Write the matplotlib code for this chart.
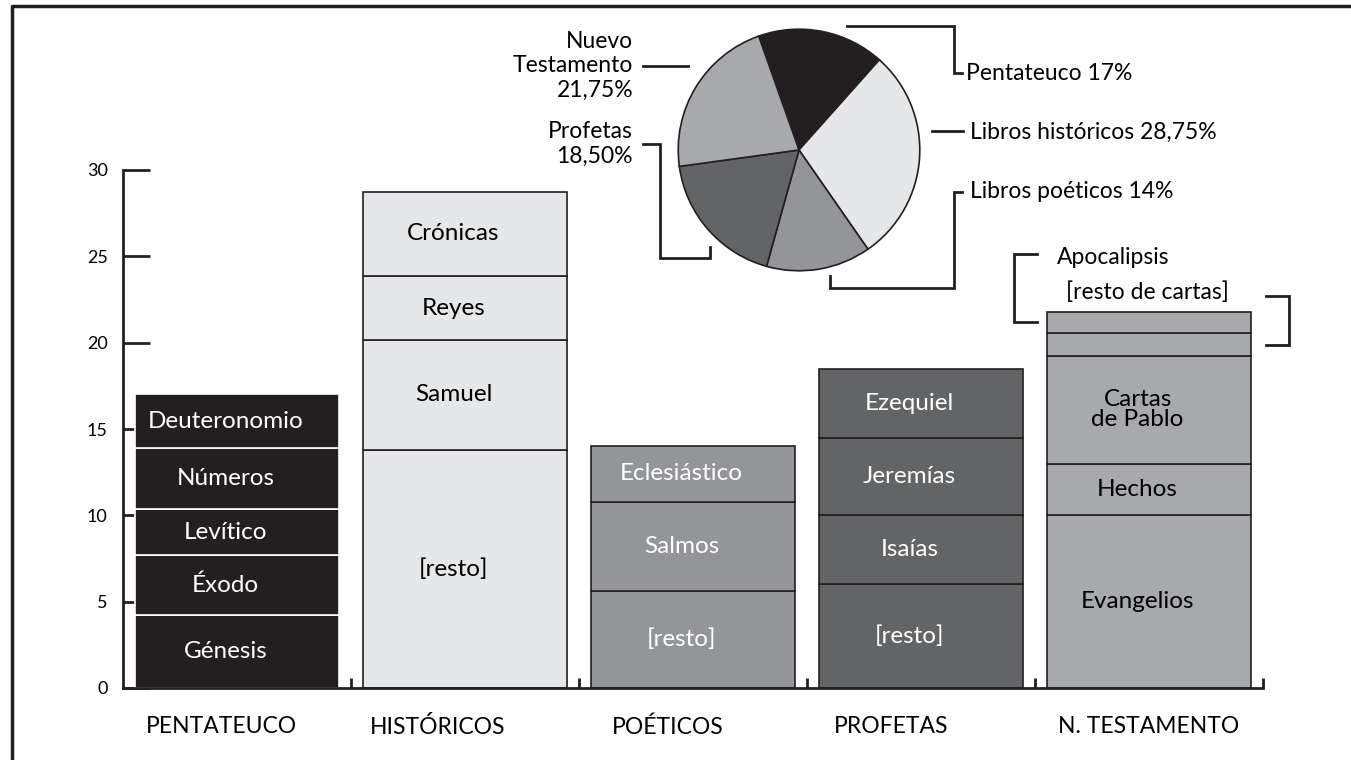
import matplotlib
matplotlib.use('Agg')
import matplotlib.pyplot as plt

plt.rcParams['font.family'] = ['Lato', 'DejaVu Sans']

# categorias (barras) y colores
categorias = ['PENTATEUCO', 'HISTÓRICOS', 'POÉTICOS', 'PROFETAS', 'N. TESTAMENTO']
colores = ['#231f20', '#e6e7e8', '#939598', '#636466', '#a7a9ac']
texto_color = ['white', 'black', 'white', 'white', 'black']

# libros de cada barra, de abajo hacia arriba (porcentaje del total)
pent_libros = ['Génesis', 'Éxodo', 'Levítico', 'Números', 'Deuteronomio']
pent_vals = [4.2, 3.5, 2.65, 3.55, 3.1]
hist_libros = ['[resto]', 'Samuel', 'Reyes', 'Crónicas']
hist_vals = [13.8, 6.35, 3.7, 4.9]
poet_libros = ['[resto]', 'Salmos', 'Eclesiástico']
poet_vals = [5.6, 5.2, 3.2]
prof_libros = ['[resto]', 'Isaías', 'Jeremías', 'Ezequiel']
prof_vals = [6.0, 4.0, 4.5, 4.0]
nt_libros = ['Evangelios', 'Hechos', 'Cartas\nde Pablo', '', '']
nt_vals = [10.0, 3.0, 6.25, 1.3, 1.2]

# pastel
pie_vals = [17, 28.75, 14, 18.5, 21.75]

libros = [pent_libros, hist_libros, poet_libros, prof_libros, nt_libros]
valores = [pent_vals, hist_vals, poet_vals, prof_vals, nt_vals]

W, H = 1351, 760
fig = plt.figure(figsize=(W / 100, H / 100), dpi=100)

ax = fig.add_axes([123 / W, 72 / H, 1140 / W, 518 / H])
ax.set_axisbelow(True)
for i, (nombres, vals) in enumerate(zip(libros, valores)):
    base = 0
    borde = 'white' if i == 0 else '#231f20'
    for nombre, v in zip(nombres, vals):
        ax.bar(i, v, bottom=base, width=0.895, color=colores[i],
               edgecolor=borde, linewidth=1.2, zorder=2)
        if nombre:
            ax.text(i - 0.05, base + v / 2, nombre, ha='center', va='center',
                    fontsize=17.5, color=texto_color[i], linespacing=0.95, zorder=3)
        base += v

ax.set_xlim(-0.5, 4.5)
ax.set_ylim(0, 30)
ax.spines['top'].set_visible(False)
ax.spines['right'].set_visible(False)
ax.spines['left'].set_linewidth(2)
ax.spines['bottom'].set_linewidth(2)
ax.spines['left'].set_color('#231f20')
ax.spines['bottom'].set_color('#231f20')
ax.set_yticks([0, 5, 10, 15, 20, 25, 30])
ax.tick_params(axis='y', direction='in', length=19.5, width=2, color='#231f20',
               labelsize=13, pad=11)
ax.set_xticks([0.5, 1.5, 2.5, 3.5, 4.5])
ax.tick_params(axis='x', direction='in', length=7, width=2, color='#231f20',
               labelbottom=False)

desplaz = [-0.07, -0.12, -0.11, -0.13, 0.0]
for i, c in enumerate(categorias):
    ax.text(i + desplaz[i], -2.25, c, ha='center', va='center', fontsize=16.5,
            clip_on=False)

# pastel
axp = fig.add_axes([(799 - 122) / W, (H - 150 - 122) / H, 244 / W, 244 / H])
axp.pie(pie_vals, colors=colores, startangle=109.5, counterclock=False,
        wedgeprops=dict(edgecolor='#231f20', linewidth=1.2))
axp.set_xlim(-1.01, 1.01)
axp.set_ylim(-1.01, 1.01)
axp.set_aspect('equal')

# capa de anotaciones en pixeles
ov = fig.add_axes([0, 0, 1, 1])
ov.set_xlim(0, W)
ov.set_ylim(H, 0)
ov.axis('off')
ov.patch.set_alpha(0)
lc = dict(color='#231f20', linewidth=2, solid_joinstyle='miter')

ov.plot([12, 12, W], [H, 6, 6], color='#231f20', linewidth=2.5)

ov.plot([643, 688], [66, 66], **lc)
ov.plot([643, 660, 660, 710, 710], [144, 144, 258, 258, 247], **lc)
ov.plot([847, 954, 954, 962], [26, 26, 73, 73], **lc)
ov.plot([932, 963], [131, 131], **lc)
ov.plot([830, 830, 954, 954, 962], [276, 288, 288, 192, 192], **lc)
ov.plot([1037, 1014, 1014, 1037], [254, 254, 322, 322], **lc)
ov.plot([1266, 1289, 1289, 1266], [296, 296, 345, 345], **lc)

fs = 16.5
ov.text(633, 66, 'Nuevo\nTestamento\n21,75%', ha='right', va='center', fontsize=fs,
        linespacing=1.2)
ov.text(633, 144, 'Profetas\n18,50%', ha='right', va='center', fontsize=fs,
        linespacing=1.2)
ov.text(966, 74, 'Pentateuco 17%', ha='left', va='center', fontsize=fs)
ov.text(970, 132, 'Libros históricos 28,75%', ha='left', va='center', fontsize=fs)
ov.text(970, 192, 'Libros poéticos 14%', ha='left', va='center', fontsize=fs)
ov.text(1057, 258, 'Apocalipsis', ha='left', va='center', fontsize=fs)
ov.text(1066, 292, '[resto de cartas]', ha='left', va='center', fontsize=fs)

fig.savefig('out.png', dpi=100, facecolor='white')
